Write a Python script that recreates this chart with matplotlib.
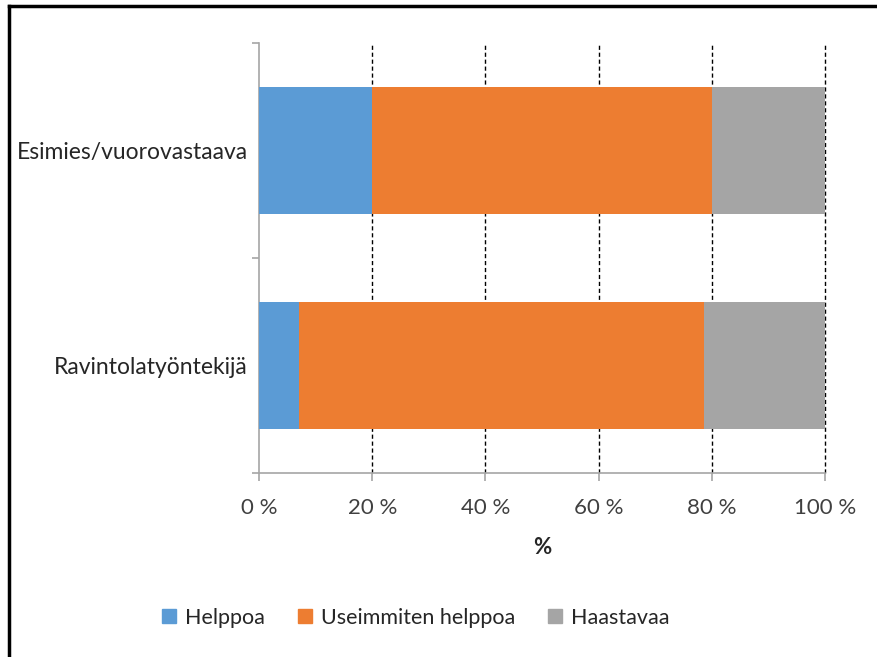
import numpy as np
import matplotlib
matplotlib.use('Agg')
import matplotlib.pyplot as plt
from matplotlib.lines import Line2D

plt.rcParams['font.family'] = ['Lato', 'DejaVu Sans']

# Share of answers per role (%)
roles = ['Esimies/vuorovastaava', 'Ravintolatyöntekijä']
series = ['Helppoa', 'Useimmiten helppoa', 'Haastavaa']
helppoa = [20.0, 7.1]
useimmiten = [60.0, 71.5]
haastavaa = [20.0, 21.4]
colors = ['#5B9BD5', '#ED7D31', '#A5A5A5']
xticks = [0, 20, 40, 60, 80, 100]

fig = plt.figure(figsize=(8.78, 6.57), dpi=100)
ax = fig.add_axes([0.295, 0.280, 0.6446, 0.6545])

ypos = np.array([1, 0])
left = np.zeros(len(roles))
for vals, name, c in zip([helppoa, useimmiten, haastavaa], series, colors):
    ax.barh(ypos, vals, left=left, height=0.59, color=c, label=name, zorder=3)
    left += np.array(vals)

ax.set_xlim(0, 100)
ax.set_ylim(-0.5, 1.5)
ax.set_xticks(xticks)
ax.set_xticklabels([f'{t} %' for t in xticks], fontsize=16, color='#404040')
ax.set_yticks(ypos)
ax.set_yticklabels(roles, fontsize=16.5, color='#262626')
ax.set_yticks([-0.5, 0.5, 1.5], minor=True)
ax.tick_params(axis='y', which='major', length=0, pad=8)
ax.tick_params(axis='y', which='minor', length=5, color='#A6A6A6', width=1.2)
ax.tick_params(axis='x', length=6, color='#A6A6A6', width=1.2, pad=12)

for x in xticks[1:]:
    ax.axvline(x, color='black', ls=(0, (3, 2)), lw=1, zorder=1, clip_on=False)

for s in ['top', 'right']:
    ax.spines[s].set_visible(False)
for s in ['left', 'bottom']:
    ax.spines[s].set_color('#A6A6A6')
    ax.spines[s].set_linewidth(1.2)

ax.set_xlabel('%', fontsize=16, fontweight='bold', color='#262626', labelpad=14)

handles = [Line2D([], [], marker='s', ls='', color=c, markersize=10) for c in colors]
fig.legend(handles, series, loc='center', bbox_to_anchor=(0.473, 0.06), ncol=3,
           frameon=False, fontsize=15.5, handlelength=0.8, handletextpad=0.35,
           columnspacing=1.45, labelcolor='#262626')

# frame lines along the top and left edge
fig.add_artist(Line2D([0.0103, 1.0], [0.9915, 0.9915], color='black', lw=2.5))
fig.add_artist(Line2D([0.0103, 0.0103], [0.0, 0.9915], color='black', lw=2.5))

fig.savefig('out.png', dpi=100)
